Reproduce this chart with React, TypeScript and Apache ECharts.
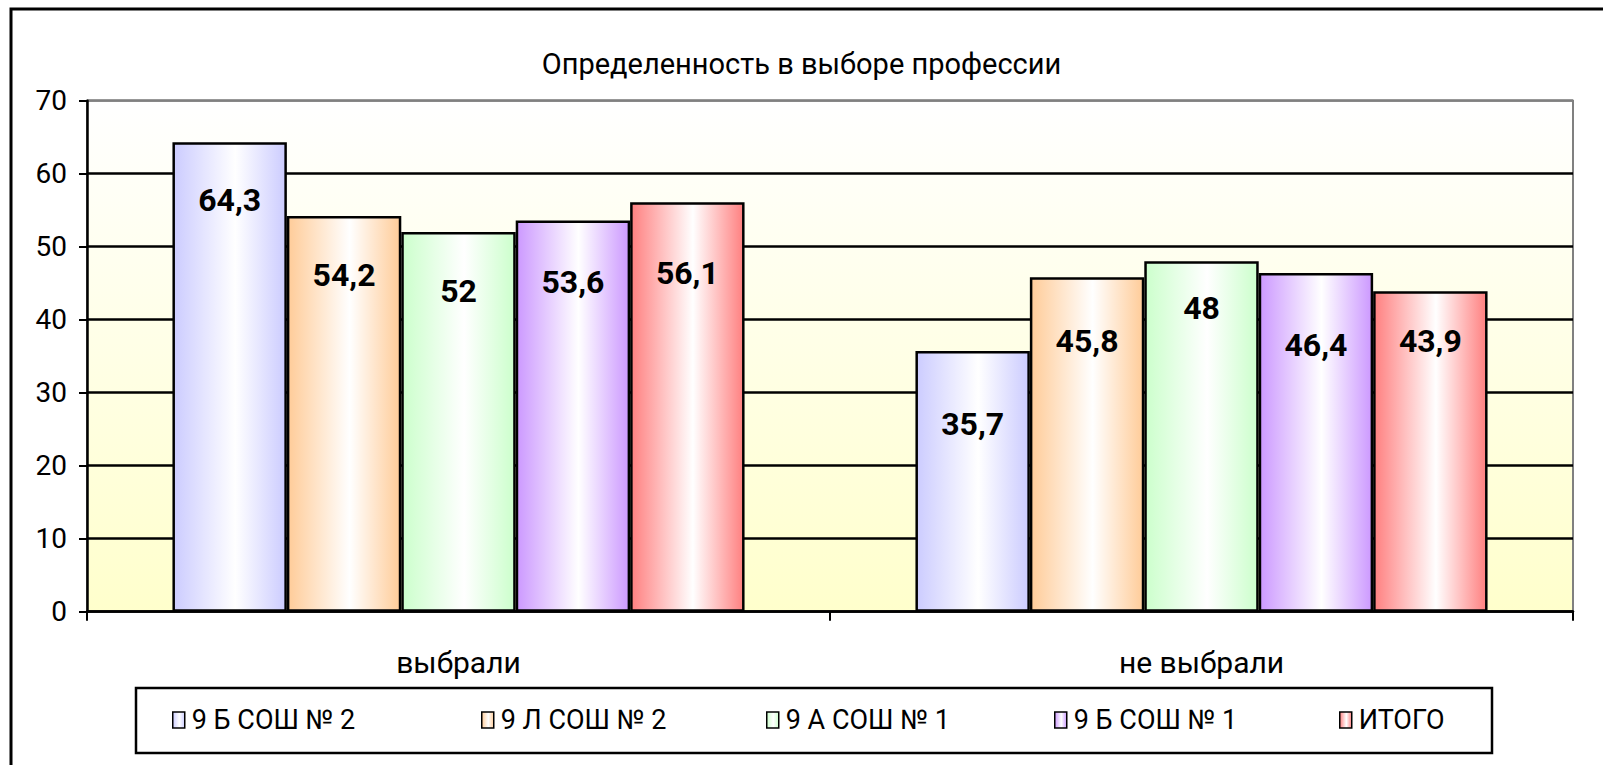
import React, { useEffect, useRef } from "react";
import * as echarts from "echarts";

const titleText = "Определенность в выборе профессии";
const categories = ["выбрали", "не выбрали"];
const seriesNames = ["9 Б СОШ № 2", "9 Л СОШ № 2", "9 А СОШ № 1", "9 Б СОШ № 1", "ИТОГО"];
const valuesB2 = [64.3, 35.7];
const valuesL2 = [54.2, 45.8];
const valuesA1 = [52, 48];
const valuesB1 = [53.6, 46.4];
const valuesTotal = [56.1, 43.9];
const yTicks = [0, 10, 20, 30, 40, 50, 60, 70];

// styling
const barColors = ["#CCCCFF", "#FFCC99", "#CCFFCC", "#CC99FF", "#FF8080"];
const labelDrops = [
  [58, 73],
  [59, 64],
  [59, 47],
  [62, 72],
  [71, 50],
];
const legendLefts = [172, 481, 766, 1054, 1339];
const FONT = "Roboto, 'Liberation Sans', sans-serif";

export default function App() {
  const ref = useRef<HTMLDivElement>(null);
  useEffect(() => {
    document.body.style.margin = "0";
    const chart = echarts.init(ref.current!, undefined, { renderer: "svg" });
    const allValues = [valuesB2, valuesL2, valuesA1, valuesB1, valuesTotal];
    const grad = (c: string) =>
      new echarts.graphic.LinearGradient(0, 0, 1, 0, [
        { offset: 0, color: c },
        { offset: 0.55, color: "#FFFFFF" },
        { offset: 1, color: c },
      ]);
    const series = seriesNames.map((name, i) => ({
      name,
      type: "bar",
      barGap: "0%",
      barCategoryGap: "23%",
      itemStyle: { color: grad(barColors[i]), borderColor: "#000", borderWidth: 2.5 },
      label: {
        show: true,
        color: "#000",
        fontFamily: FONT,
        fontSize: 32,
        fontWeight: "bold",
        align: "center",
        verticalAlign: "middle",
        formatter: (p: any) => String(p.value).replace(".", ","),
      },
      data: allValues[i].map((v, j) => ({
        value: v,
        label: { position: ["50%", labelDrops[i][j]] },
      })),
    }));
    const legends = seriesNames.map((name, i) => ({
      data: [name],
      left: legendLefts[i],
      top: 705,
      padding: 0,
      itemWidth: 12,
      itemHeight: 16,
      itemGap: 0,
      icon: "rect",
      itemStyle: { borderColor: "#000", borderWidth: 1.5 },
      textStyle: { fontFamily: FONT, fontSize: 27, color: "#000", lineHeight: 30, padding: [0, 0, 0, 2] },
      selectedMode: false,
    }));
    chart.setOption({
      animation: false,
      backgroundColor: "#FFFFFF",
      title: {
        text: titleText,
        left: "center",
        top: 44,
        textStyle: { fontFamily: FONT, fontSize: 29, fontWeight: "normal", color: "#000" },
      },
      graphic: [
        {
          type: "rect",
          shape: { x: 11, y: 9, width: 1700, height: 900 },
          style: { fill: "none", stroke: "#000", lineWidth: 3 },
          z: 100,
          silent: true,
        },
        {
          type: "rect",
          shape: { x: 136, y: 688, width: 1356, height: 65 },
          style: { fill: "#FFFFFF", stroke: "#000", lineWidth: 2.5 },
          z: -1,
          silent: true,
        },
      ],
      legend: legends,
      grid: {
        left: 87,
        right: 30,
        top: 100.7,
        bottom: 153.3,
        show: true,
        borderColor: "#808080",
        borderWidth: 2,
        backgroundColor: new echarts.graphic.LinearGradient(0, 0, 0, 1, [
          { offset: 0, color: "#FFFFFF" },
          { offset: 1, color: "#FFFFCC" },
        ]),
      },
      xAxis: {
        type: "category",
        data: categories,
        axisLine: { show: true, lineStyle: { color: "#000", width: 2.5 } },
        axisTick: { show: true, length: 9, lineStyle: { color: "#000", width: 2 } },
        axisLabel: { fontFamily: FONT, fontSize: 30, color: "#000", margin: 36 },
      },
      yAxis: {
        type: "value",
        min: yTicks[0],
        max: yTicks[yTicks.length - 1],
        interval: 10,
        axisLine: { show: true, lineStyle: { color: "#000", width: 2.5 } },
        axisTick: { show: true, length: 8, lineStyle: { color: "#000", width: 2 } },
        axisLabel: { fontFamily: FONT, fontSize: 28, color: "#000", margin: 20 },
        splitLine: {
          show: true,
          lineStyle: {
            width: 2.5,
            color: yTicks.map((t, k) => (k === yTicks.length - 1 ? "#808080" : "#000")),
          },
        },
      },
      series,
    });
    return () => chart.dispose();
  }, []);
  return <div ref={ref} style={{ position: "fixed", left: 0, top: 0, width: 1603, height: 765 }} />;
}
